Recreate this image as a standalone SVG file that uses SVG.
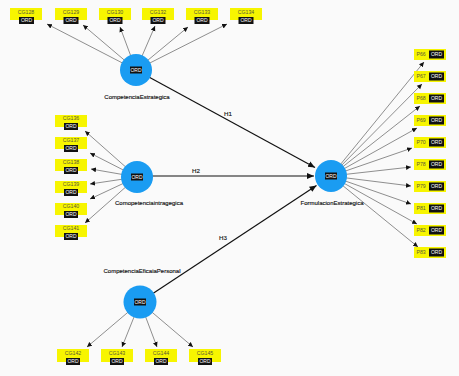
<svg xmlns="http://www.w3.org/2000/svg" width="459" height="376" viewBox="0 0 459 376">
<defs>
<style>
.bg{fill:#fafafa}
.lv{fill:#1a9cf2}
.yb{fill:#f7f500}
.ob{fill:#111}
.ot{fill:#fff;font-family:"Liberation Sans",Arial,sans-serif;font-size:5px;text-anchor:middle}
.it{fill:#5a5a3a;font-family:"Liberation Sans",Arial,sans-serif;font-size:5.2px;text-anchor:middle}
.pt{fill:#5a5a3a;font-family:"Liberation Sans",Arial,sans-serif;font-size:5.2px}
.lt{fill:#111;font-family:"Liberation Sans",Arial,sans-serif;font-size:6px;text-anchor:middle;stroke:#111;stroke-width:0.15}
.ht{fill:#111;font-family:"Liberation Sans",Arial,sans-serif;font-size:6.2px;text-anchor:middle;stroke:#111;stroke-width:0.15}
.thin{stroke:#444;stroke-width:0.6;fill:none;marker-end:url(#a)}
.thick{stroke:#111;stroke-width:1.2;fill:none;marker-end:url(#b)}
</style>
<marker id="a" markerUnits="userSpaceOnUse" markerWidth="6" markerHeight="6" viewBox="0 0 6 6" refX="5" refY="3" orient="auto"><path d="M0,0.6 L5,3 L0,5.4 Z" fill="#111"/></marker>
<marker id="b" markerUnits="userSpaceOnUse" markerWidth="8" markerHeight="8" viewBox="0 0 8 8" refX="7" refY="4" orient="auto"><path d="M0,1 L7,4 L0,7 Z" fill="#111"/></marker>
</defs>
<rect class="bg" x="0" y="0" width="459" height="376"/>
<g id="connectors">
<line class="thin" x1="136" y1="70" x2="47" y2="24"/>
<line class="thin" x1="136" y1="70" x2="83" y2="25"/>
<line class="thin" x1="136" y1="70" x2="120" y2="27"/>
<line class="thin" x1="136" y1="70" x2="155" y2="26"/>
<line class="thin" x1="136" y1="70" x2="188" y2="27"/>
<line class="thin" x1="136" y1="70" x2="227" y2="24"/>
<line class="thin" x1="137" y1="177" x2="85" y2="131"/>
<line class="thin" x1="137" y1="177" x2="90" y2="153"/>
<line class="thin" x1="137" y1="177" x2="91" y2="169"/>
<line class="thin" x1="137" y1="177" x2="90" y2="184"/>
<line class="thin" x1="137" y1="177" x2="90" y2="199"/>
<line class="thin" x1="137" y1="177" x2="85" y2="223"/>
<line class="thin" x1="140" y1="302" x2="87" y2="347"/>
<line class="thin" x1="140" y1="302" x2="122" y2="347"/>
<line class="thin" x1="140" y1="302" x2="157" y2="347"/>
<line class="thin" x1="140" y1="302" x2="193" y2="347"/>
<line class="thin" x1="331" y1="176" x2="424" y2="62"/>
<line class="thin" x1="331" y1="176" x2="422" y2="84"/>
<line class="thin" x1="331" y1="176" x2="420" y2="106"/>
<line class="thin" x1="331" y1="176" x2="417" y2="128"/>
<line class="thin" x1="331" y1="176" x2="412" y2="148"/>
<line class="thin" x1="331" y1="176" x2="411" y2="167"/>
<line class="thin" x1="331" y1="176" x2="411" y2="186"/>
<line class="thin" x1="331" y1="176" x2="411" y2="204"/>
<line class="thin" x1="331" y1="176" x2="417" y2="224"/>
<line class="thin" x1="331" y1="176" x2="418" y2="247"/>
<line class="thick" x1="136" y1="70" x2="315" y2="167.5"/>
<line class="thick" x1="137" y1="176" x2="314" y2="176"/>
<line class="thick" x1="140" y1="302" x2="316.5" y2="185.5"/>
<text class="ht" x="228" y="116">H1</text>
<text class="ht" x="196" y="173">H2</text>
<text class="ht" x="223" y="240">H3</text>
</g>
<g id="CompetenciaEstrategica">
<circle class="lv" cx="136" cy="70" r="16"/>
<rect class="ob" x="130" y="66.5" width="12" height="7"/>
<text class="ot" x="136" y="72">ORD</text>
<text class="lt" x="137" y="99">CompetenciaEstrategica</text>
</g>
<g id="Comopetenciaintragegica">
<circle class="lv" cx="137" cy="177" r="16"/>
<rect class="ob" x="131" y="173.5" width="12" height="7"/>
<text class="ot" x="137" y="179">ORD</text>
<text class="lt" x="149" y="205">Comopetenciaintragegica</text>
</g>
<g id="CompetenciaEficaiaPersonal">
<circle class="lv" cx="140" cy="302" r="16.5"/>
<rect class="ob" x="134" y="298.5" width="12" height="7"/>
<text class="ot" x="140" y="304">ORD</text>
<text class="lt" x="142" y="273">CompetenciaEficaiaPersonal</text>
</g>
<g id="FormulacionEstrategica">
<circle class="lv" cx="331" cy="176" r="16"/>
<rect class="ob" x="325" y="172.5" width="12" height="7"/>
<text class="ot" x="331" y="178">ORD</text>
<text class="lt" x="332" y="205">FormulacionEstrategica</text>
</g>
<g id="CG128"><rect class="yb" x="10" y="8" width="32" height="12"/><text class="it" x="26" y="13.5">CG128</text><rect class="ob" x="19" y="17" width="15" height="7"/><text class="ot" x="26.5" y="22.3">ORD</text></g>
<g id="CG129"><rect class="yb" x="55" y="8" width="32" height="12"/><text class="it" x="71" y="13.5">CG129</text><rect class="ob" x="63.5" y="17" width="15" height="7"/><text class="ot" x="71" y="22.3">ORD</text></g>
<g id="CG130"><rect class="yb" x="99" y="8" width="32" height="12"/><text class="it" x="115" y="13.5">CG130</text><rect class="ob" x="107.5" y="17" width="15" height="7"/><text class="ot" x="115" y="22.3">ORD</text></g>
<g id="CG132"><rect class="yb" x="142" y="8" width="32" height="12"/><text class="it" x="158" y="13.5">CG132</text><rect class="ob" x="150.5" y="17" width="15" height="7"/><text class="ot" x="158" y="22.3">ORD</text></g>
<g id="CG133"><rect class="yb" x="186" y="8" width="32" height="12"/><text class="it" x="202" y="13.5">CG133</text><rect class="ob" x="194.5" y="17" width="15" height="7"/><text class="ot" x="202" y="22.3">ORD</text></g>
<g id="CG134"><rect class="yb" x="230" y="8" width="32" height="12"/><text class="it" x="246" y="13.5">CG134</text><rect class="ob" x="238.5" y="17" width="15" height="7"/><text class="ot" x="246" y="22.3">ORD</text></g>
<g id="CG136"><rect class="yb" x="55" y="115" width="32" height="12"/><text class="it" x="71" y="120">CG136</text><rect class="ob" x="64" y="123" width="14" height="7"/><text class="ot" x="71" y="128.3">ORD</text></g>
<g id="CG137"><rect class="yb" x="55" y="137" width="32" height="12"/><text class="it" x="71" y="142">CG137</text><rect class="ob" x="64" y="145" width="14" height="7"/><text class="ot" x="71" y="150.3">ORD</text></g>
<g id="CG138"><rect class="yb" x="55" y="159" width="32" height="12"/><text class="it" x="71" y="164">CG138</text><rect class="ob" x="64" y="167" width="14" height="7"/><text class="ot" x="71" y="172.3">ORD</text></g>
<g id="CG139"><rect class="yb" x="55" y="181" width="32" height="12"/><text class="it" x="71" y="186">CG139</text><rect class="ob" x="64" y="189" width="14" height="7"/><text class="ot" x="71" y="194.3">ORD</text></g>
<g id="CG140"><rect class="yb" x="55" y="203" width="32" height="12"/><text class="it" x="71" y="208">CG140</text><rect class="ob" x="64" y="211" width="14" height="7"/><text class="ot" x="71" y="216.3">ORD</text></g>
<g id="CG141"><rect class="yb" x="55" y="225" width="32" height="12"/><text class="it" x="71" y="230">CG141</text><rect class="ob" x="64" y="233" width="14" height="7"/><text class="ot" x="71" y="238.3">ORD</text></g>
<g id="CG142"><rect class="yb" x="57" y="349" width="32" height="13"/><text class="it" x="73" y="354.5">CG142</text><rect class="ob" x="66" y="358" width="14" height="7"/><text class="ot" x="73" y="363.3">ORD</text></g>
<g id="CG143"><rect class="yb" x="101" y="349" width="32" height="13"/><text class="it" x="117" y="354.5">CG143</text><rect class="ob" x="110" y="358" width="14" height="7"/><text class="ot" x="117" y="363.3">ORD</text></g>
<g id="CG144"><rect class="yb" x="145" y="349" width="32" height="13"/><text class="it" x="161" y="354.5">CG144</text><rect class="ob" x="154" y="358" width="14" height="7"/><text class="ot" x="161" y="363.3">ORD</text></g>
<g id="CG145"><rect class="yb" x="189" y="349" width="32" height="13"/><text class="it" x="205" y="354.5">CG145</text><rect class="ob" x="198" y="358" width="14" height="7"/><text class="ot" x="205" y="363.3">ORD</text></g>
<g id="P66"><rect class="yb" x="414" y="49" width="32" height="11"/><text class="pt" x="416.5" y="56.3">P66</text><rect class="ob" x="429" y="50.5" width="15" height="8"/><text class="ot" x="436.5" y="56.3">ORD</text></g>
<g id="P67"><rect class="yb" x="414" y="71" width="32" height="11"/><text class="pt" x="416.5" y="78.3">P67</text><rect class="ob" x="429" y="72.5" width="15" height="8"/><text class="ot" x="436.5" y="78.3">ORD</text></g>
<g id="P68"><rect class="yb" x="414" y="93" width="32" height="11"/><text class="pt" x="416.5" y="100.3">P68</text><rect class="ob" x="429" y="94.5" width="15" height="8"/><text class="ot" x="436.5" y="100.3">ORD</text></g>
<g id="P69"><rect class="yb" x="414" y="115" width="32" height="11"/><text class="pt" x="416.5" y="122.3">P69</text><rect class="ob" x="429" y="116.5" width="15" height="8"/><text class="ot" x="436.5" y="122.3">ORD</text></g>
<g id="P70"><rect class="yb" x="414" y="137" width="32" height="11"/><text class="pt" x="416.5" y="144.3">P70</text><rect class="ob" x="429" y="138.5" width="15" height="8"/><text class="ot" x="436.5" y="144.3">ORD</text></g>
<g id="P78"><rect class="yb" x="414" y="159" width="32" height="11"/><text class="pt" x="416.5" y="166.3">P78</text><rect class="ob" x="429" y="160.5" width="15" height="8"/><text class="ot" x="436.5" y="166.3">ORD</text></g>
<g id="P79"><rect class="yb" x="414" y="181" width="32" height="11"/><text class="pt" x="416.5" y="188.3">P79</text><rect class="ob" x="429" y="182.5" width="15" height="8"/><text class="ot" x="436.5" y="188.3">ORD</text></g>
<g id="P81"><rect class="yb" x="414" y="203" width="32" height="11"/><text class="pt" x="416.5" y="210.3">P81</text><rect class="ob" x="429" y="204.5" width="15" height="8"/><text class="ot" x="436.5" y="210.3">ORD</text></g>
<g id="P82"><rect class="yb" x="414" y="225" width="32" height="11"/><text class="pt" x="416.5" y="232.3">P82</text><rect class="ob" x="429" y="226.5" width="15" height="8"/><text class="ot" x="436.5" y="232.3">ORD</text></g>
<g id="P83"><rect class="yb" x="414" y="247" width="32" height="11"/><text class="pt" x="416.5" y="254.3">P83</text><rect class="ob" x="429" y="248.5" width="15" height="8"/><text class="ot" x="436.5" y="254.3">ORD</text></g>
</svg>
